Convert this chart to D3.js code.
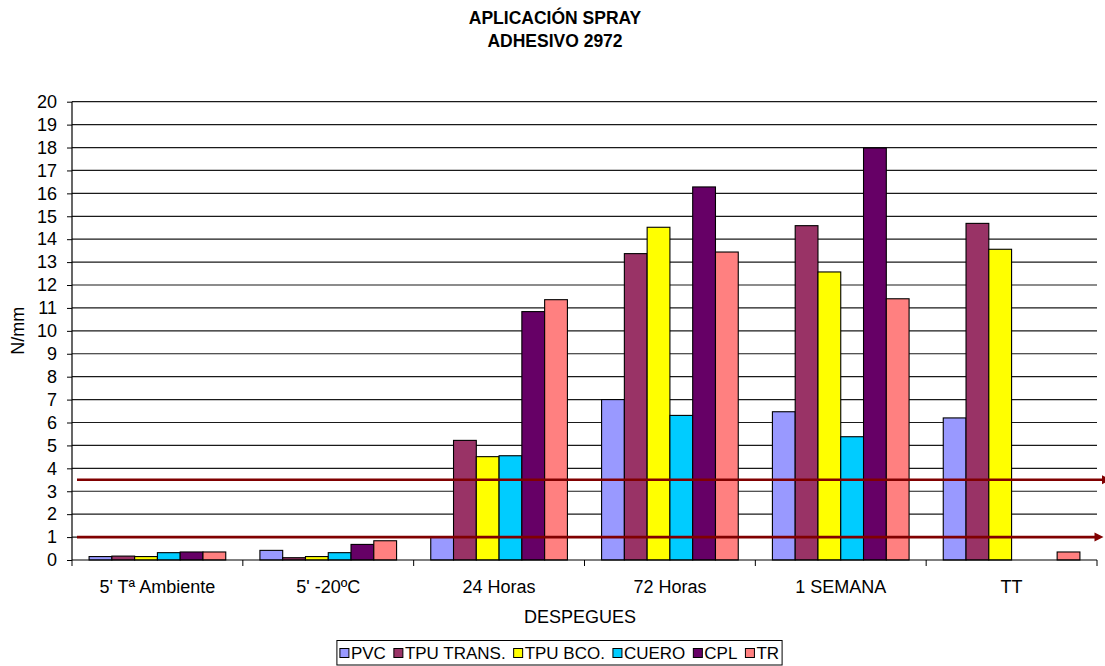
<!DOCTYPE html>
<html>
<head>
<meta charset="utf-8">
<script src="https://cdn.jsdelivr.net/npm/d3@7"></script>
<style>
  html, body { margin: 0; padding: 0; background: #fff; }
  svg { display: block; font-family: "Liberation Sans", Arial, sans-serif; }
</style>
</head>
<body>
<svg id="chart" width="1105" height="666"></svg>
<script>
// Peel strength (N/mm) per substrate after each curing time
const categories = ["5' Tª Ambiente", "5' -20ºC", "24 Horas", "72 Horas", "1 SEMANA", "TT"];
const seriesNames = ["PVC", "TPU TRANS.", "TPU BCO.", "CUERO", "CPL", "TR"];
const pvc      = [0.15, 0.42, 1.0, 7.0, 6.47, 6.2];
const tpuTrans = [0.17, 0.1, 5.22, 13.37, 14.59, 14.69];
const tpuBco   = [0.15, 0.15, 4.51, 14.52, 12.57, 13.56];
const cuero    = [0.32, 0.32, 4.55, 6.31, 5.38, 0];
const cpl      = [0.35, 0.68, 10.84, 16.28, 17.98, 0];
const tr       = [0.35, 0.84, 11.36, 13.44, 11.4, 0.35];
const seriesColors = ["#9999FF", "#993366", "#FFFF00", "#00CCFF", "#660066", "#FF8080"];
const yTicks = d3.range(0, 21);
const referenceValues = [3.5, 1];

const seriesValues = [pvc, tpuTrans, tpuBco, cuero, cpl, tr];

const svg = d3.select("#chart");
const plot = { left: 72, right: 1097, top: 101.7, bottom: 560 };

const x0 = d3.scaleBand().domain(categories).range([plot.left, plot.right]).paddingInner(0).paddingOuter(0);
const x1 = d3.scaleBand().domain(seriesNames).range([0, x0.bandwidth()]).paddingInner(0).paddingOuter(0.75);
const y = d3.scaleLinear().domain([0, 20]).range([plot.bottom, plot.top]);
const color = d3.scaleOrdinal().domain(seriesNames).range(seriesColors);

// Title
const title = svg.append("text")
  .attr("x", 555).attr("text-anchor", "middle")
  .attr("font-weight", "bold").attr("font-size", 17.5).attr("fill", "#000");
title.append("tspan").attr("x", 555).attr("y", 24).text("APLICACIÓN SPRAY");
title.append("tspan").attr("x", 555).attr("y", 47).text("ADHESIVO 2972");

// Horizontal gridlines
svg.append("g")
  .selectAll("line")
  .data(yTicks.filter(d => d > 0))
  .join("line")
  .attr("x1", plot.left).attr("x2", plot.right)
  .attr("y1", d => y(d)).attr("y2", d => y(d))
  .attr("stroke", "#1a1a1a").attr("stroke-width", 1.2);

// Y axis
const yAxis = svg.append("g")
  .attr("transform", `translate(${plot.left},0)`)
  .call(d3.axisLeft(y).tickValues(yTicks).tickSize(5).tickPadding(10).tickFormat(d3.format("d")));
yAxis.select(".domain").remove();
yAxis.selectAll(".tick line").attr("stroke", "#000");
yAxis.selectAll(".tick text").attr("font-size", 18).attr("fill", "#000")
  .attr("font-family", "Liberation Sans, Arial, sans-serif");
svg.append("line")
  .attr("x1", plot.left).attr("x2", plot.left)
  .attr("y1", plot.top).attr("y2", plot.bottom)
  .attr("stroke", "#000").attr("stroke-width", 1.2);

// Bars
const groups = svg.append("g")
  .selectAll("g")
  .data(categories)
  .join("g")
  .attr("transform", d => `translate(${x0(d)},0)`);

groups.selectAll("rect")
  .data((cat, i) => seriesNames.map((s, k) => ({ series: s, value: seriesValues[k][i] })).filter(d => d.value > 0))
  .join("rect")
  .attr("x", d => x1(d.series))
  .attr("width", x1.bandwidth())
  .attr("y", d => y(d.value))
  .attr("height", d => y(0) - y(d.value))
  .attr("fill", d => color(d.series))
  .attr("stroke", "#000")
  .attr("stroke-width", 1.1);

// X axis line, category boundary ticks and labels
svg.append("line")
  .attr("x1", plot.left).attr("x2", plot.right)
  .attr("y1", plot.bottom).attr("y2", plot.bottom)
  .attr("stroke", "#000").attr("stroke-width", 1.2);

const boundaries = categories.map(c => x0(c)).concat([x0.range()[1]]);
svg.append("g")
  .selectAll("line")
  .data(boundaries)
  .join("line")
  .attr("x1", d => d).attr("x2", d => d)
  .attr("y1", plot.bottom).attr("y2", plot.bottom + 6)
  .attr("stroke", "#000");

const xAxis = svg.append("g")
  .attr("transform", `translate(0,${plot.bottom})`)
  .call(d3.axisBottom(x0).tickSize(0).tickPadding(20));
xAxis.select(".domain").remove();
xAxis.selectAll(".tick text").attr("font-size", 18).attr("fill", "#000")
  .attr("font-family", "Liberation Sans, Arial, sans-serif");

// Reference levels with arrows
const arrowEnds = [1111, 1103.5];
const refs = svg.append("g");
referenceValues.forEach((v, i) => {
  const yy = y(v);
  const tip = arrowEnds[i];
  refs.append("line")
    .attr("x1", 77).attr("x2", tip - 6)
    .attr("y1", yy).attr("y2", yy)
    .attr("stroke", "#800000").attr("stroke-width", 2.6);
  refs.append("path")
    .attr("d", `M${tip - 9},${yy - 4.5}L${tip},${yy}L${tip - 9},${yy + 4.5}Z`)
    .attr("fill", "#800000");
});

// Axis titles
svg.append("text")
  .attr("transform", `translate(24,${(plot.top + plot.bottom) / 2}) rotate(-90)`)
  .attr("text-anchor", "middle").attr("font-size", 18).attr("fill", "#000")
  .text("N/mm");

svg.append("text")
  .attr("x", 580).attr("y", 623)
  .attr("text-anchor", "middle").attr("font-size", 18).attr("fill", "#000")
  .text("DESPEGUES");

// Legend
const legend = svg.append("g");
const legendBox = legend.append("rect")
  .attr("fill", "#fff").attr("stroke", "#000").attr("stroke-width", 1);
let cursor = 0;
const items = [];
seriesNames.forEach(name => {
  const g = legend.append("g");
  g.append("rect")
    .attr("x", cursor).attr("y", -4.5)
    .attr("width", 9).attr("height", 9)
    .attr("fill", color(name)).attr("stroke", "#000").attr("stroke-width", 1);
  const t = g.append("text")
    .attr("x", cursor + 11).attr("y", 6.2)
    .attr("font-size", 17).attr("fill", "#000")
    .text(name);
  cursor += 11 + t.node().getComputedTextLength() + 8;
  items.push(g);
});
const legendWidth = cursor - 8;
const legendLeft = 559.5 - legendWidth / 2;
const legendMidY = 653;
items.forEach(g => g.attr("transform", `translate(${legendLeft},${legendMidY})`));
legendBox
  .attr("x", legendLeft - 3).attr("y", 640.5)
  .attr("width", legendWidth + 6).attr("height", 24.5);
</script>
</body>
</html>
